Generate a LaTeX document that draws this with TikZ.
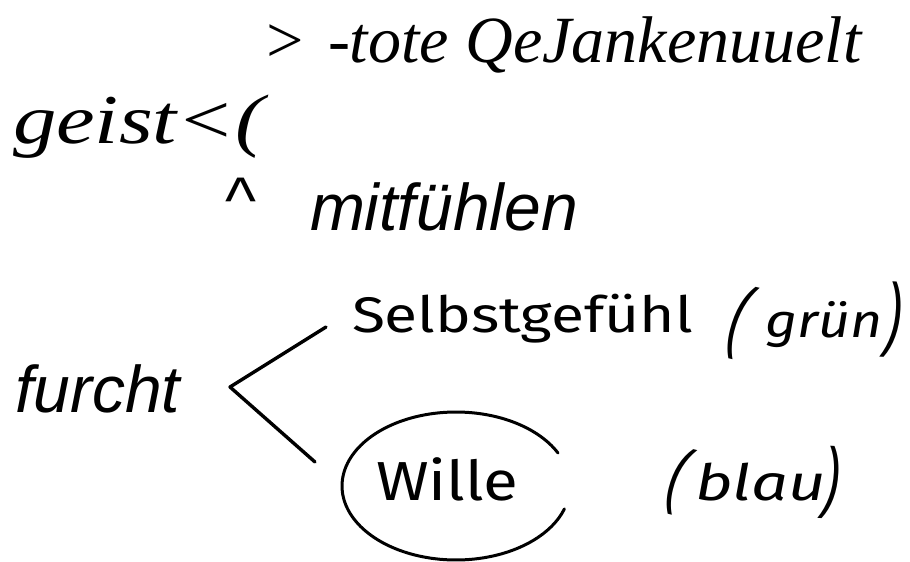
\documentclass[tikz,border=0pt]{standalone}
\usepackage{fontspec}
\usepackage{graphicx}
\setmainfont{Liberation Serif}
\newfontfamily\arialfont{Liberation Sans}
\newfontfamily\handfont{Fira Sans}
\newcommand{\fsz}[1]{\fontsize{#1}{#1}\selectfont}
% hand-drawn parenthesis: #1 glyph, #2 extra slant (rotation), #3 raise, #4 vertical scale
\newcommand{\hparen}[4]{\raisebox{#3}{\rotatebox[origin=c]{#2}{\scalebox{0.6}[#4]{\arialfont\itshape\fsz{84pt}#1}}}}
\tikzset{
  txt/.style={inner sep=0pt, outer sep=0pt, anchor=base west},
  brstroke/.style={line width=3.4pt, line cap=round, line join=round},
  ringstroke/.style={line width=3pt, line cap=round},
}
\begin{document}
\begin{tikzpicture}[x=1pt,y=-1pt]
\fill[white] (0,0) rectangle (910,562);
\useasboundingbox (0,0) rectangle (910,562);
% printed lines
\node[txt] (gt) at (262,62) {\fsz{66pt}\itshape >};
\node[txt] (tote) at (328,62) {\fsz{66pt}\itshape -tote QeJankenuuelt};
\node[txt] (geist) at (13,143) {\scalebox{1.24}[1]{\fsz{70pt}\itshape geist<(}};
\node[txt] (caret) at (225,223) {\arialfont\fsz{66pt}\textasciicircum};
\node[txt] (mit) at (310,230) {\arialfont\itshape\fsz{66pt}mitfühlen};
\node[txt] (furcht) at (15,412) {\arialfont\itshape\fsz{66pt}furcht};
% handwritten part
\node[txt] (selbst) at (352,332) {\scalebox{1.21}[1]{\handfont\fsz{50pt}Selbstgefühl}};
\node[txt] (gruen) at (721,337) {\makebox[44pt][l]{\hparen{(}{-14}{-6pt}{0.97}}\makebox[120pt][l]{\scalebox{1.18}[1]{\handfont\itshape\fsz{47pt}grün}}\hparen{)}{-3}{-4pt}{0.97}};
\node[txt] (wille) at (376,500) {\scalebox{1.16}[1]{\handfont\fsz{55pt}Wille}};
\node[txt] (blau) at (661,500) {\makebox[34pt][l]{\hparen{(}{-14}{0pt}{0.88}}\makebox[128pt][l]{\scalebox{1.3}[1]{\handfont\itshape\fsz{50pt}blau}}\hparen{)}{-3}{-3pt}{0.93}};
% bracket
\coordinate (btop) at (326,327);
\coordinate (bvert) at (230,387);
\coordinate (bbot) at (315,462);
\draw[brstroke] (btop) -- (bvert) -- (bbot);
% open ring round "Wille"
\draw[ringstroke] plot[smooth, domain=18:333.5, samples=72] ({456+114*cos(\x)},{486+74*sin(\x)});
\end{tikzpicture}
\end{document}
